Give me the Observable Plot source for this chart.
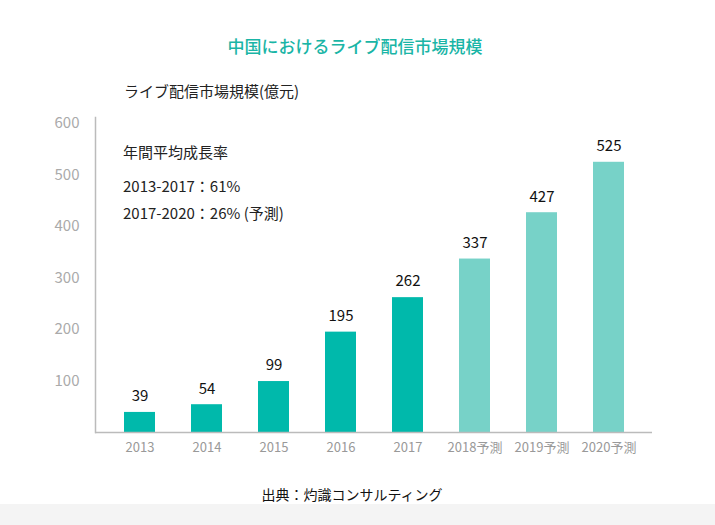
<!DOCTYPE html>
<html><head><meta charset="utf-8">
<script src="https://cdn.jsdelivr.net/npm/d3@7"></script>
<script src="https://cdn.jsdelivr.net/npm/@observablehq/plot@0.6"></script>
<style>
body{margin:0;background:#fff;font-family:"Noto Sans CJK JP","Noto Sans",sans-serif;}
#wrap{position:relative;width:715px;height:525px;overflow:hidden;}
.abs{position:absolute;white-space:nowrap;}
#title{top:33px;left:0;width:710px;text-align:center;color:#1ab5a6;font-size:17px;font-weight:500;}
#sub{top:80px;left:124px;font-size:15px;color:#222;}
.ann{left:123px;font-size:15px;color:#222;}
#cap{top:484px;left:0;width:704px;text-align:center;font-size:14px;color:#111;}
#band{top:504px;left:0;width:715px;height:21px;background:#f4f4f4;}
#chart{position:absolute;top:0;left:0;}
</style></head>
<body>
<div id="wrap">
<div id="chart"></div>
<div class="abs" id="title">中国におけるライブ配信市場規模</div>
<div class="abs" id="sub">ライブ配信市場規模(億元)</div>
<div class="abs ann" style="top:141px">年間平均成長率</div>
<div class="abs ann" style="top:175px">2013-2017：61%</div>
<div class="abs ann" style="top:202px">2017-2020：26% (予測)</div>
<div class="abs" id="band"></div>
<div class="abs" id="cap">出典：灼識コンサルティング</div>
</div>
<script>
const years = ["2013","2014","2015","2016","2017","2018予測","2019予測","2020予測"];
const values = [39,54,99,195,262,337,427,525];
const forecast = [false,false,false,false,false,true,true,true];
const yTicks = [100,200,300,400,500,600];
const data = years.map((y,i)=>({year:y,value:values[i],forecast:forecast[i]}));

const chart = Plot.plot({
  width:715, height:525,
  marginTop:117, marginBottom:93, marginLeft:95, marginRight:63,
  style:{fontFamily:'"Noto Sans CJK JP","Noto Sans",sans-serif', background:"transparent"},
  x:{domain:years, padding:0.54, paddingOuter:0.4, label:null, tickSize:0, tickPadding:10, fontSize:13},
  y:{domain:[0,612], ticks:yTicks, label:null, tickSize:0, tickPadding:16},
  marks:[
    Plot.barY(data,{x:"year", y:"value", fill:d=>d.forecast?"#77d2c8":"#00b9ab"}),
    Plot.text(data,{x:"year", y:"value", text:d=>String(d.value), dy:-16, fontSize:15, fill:"#111"}),
    Plot.ruleY([0],{stroke:"#bbb", strokeWidth:1.5}),
    Plot.frame({anchor:"left", stroke:"#bbb", strokeWidth:1.5}),
  ]
});
chart.querySelectorAll('[aria-label="x-axis tick label"] text').forEach(t=>{t.setAttribute("fill","#999");t.style.fontSize="13px";});
chart.querySelectorAll('[aria-label="y-axis tick label"] text').forEach(t=>{t.setAttribute("fill","#aaa");t.style.fontSize="15px";});
chart.querySelectorAll('[aria-label="x-axis tick label"], [aria-label="y-axis tick label"]').forEach(g=>{g.setAttribute("fill","#999");});
document.getElementById("chart").appendChild(chart);
</script>
</body></html>
